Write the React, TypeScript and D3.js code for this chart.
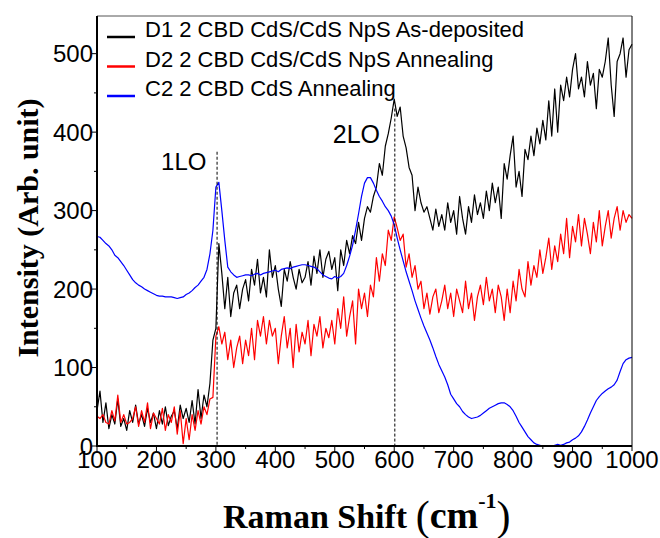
import React from "react";
import * as d3 from "d3";

// Raman shift grid (cm^-1), one sample every 5 cm^-1
const shift: number[] = d3.range(100, 1001, 5);

// D1 2 CBD CdS/CdS NpS As-deposited
const d1AsDeposited: number[] = [
  45, 70, 30, 55, 22, 40, 28, 60, 25, 35,
  20, 45, 30, 52, 28, 40, 25, 48, 30, 42,
  22, 45, 28, 50, 26, 38, 45, 22, 52, 35,
  48, 30, 58, 28, 72, 35, 65, 50, 80, 135,
  150, 258, 220, 175, 215, 165, 195, 205, 175, 200,
  212, 185, 225, 205, 238, 195, 215, 190, 250, 215,
  230, 200, 178, 225, 210, 235, 215, 200, 225, 208,
  215, 235, 205, 242, 220, 250, 215, 238, 248, 225,
  240, 198, 250, 230, 262, 245, 268, 258, 285, 262,
  290, 305, 298, 318, 330, 360, 345, 382, 398, 418,
  442, 420, 432, 395, 380, 355, 345, 300, 330, 310,
  298, 305, 290, 275, 302, 280, 295, 275, 310, 285,
  300, 270, 318, 290, 270, 305, 285, 320, 295, 310,
  290, 325, 300, 335, 310, 330, 290, 360, 340, 370,
  395, 330, 350, 318, 378, 365, 395, 370, 405, 385,
  415, 390, 440, 395, 455, 400, 460, 440, 470, 445,
  480, 500, 455, 470, 445, 490, 460, 475, 430, 480,
  470, 490, 520, 460, 420, 490, 500, 520, 470, 505,
  512,
];

// D2 2 CBD CdS/CdS NpS Annealing
const d2Annealing: number[] = [
  38, 35, 40, 30, 28, 45, 32, 65, 30, 40,
  28, 30, 35, 50, 25, 45, 30, 55, 22, 42,
  35, 28, 48, 20, 40, 30, 50, 15, 45, 3,
  35, 8, 40, 20, 45, 28, 50, 40, 60, 62,
  140, 152, 130, 145, 110, 135, 100, 125, 140, 105,
  135, 115, 150, 110, 160, 140, 165, 130, 160, 140,
  150, 105, 140, 165, 125, 150, 100, 155, 120, 145,
  130, 160, 115, 155, 140, 165, 125, 150, 138, 160,
  130, 175, 150, 190, 140, 165, 185, 130, 200, 175,
  195, 165, 205, 190, 240, 210, 245, 230, 275, 262,
  292, 278, 262, 270, 228, 245, 215, 230, 200, 210,
  175, 195, 168, 190, 200, 170, 185, 205, 175, 195,
  165, 200, 185, 170, 210, 175, 195, 160, 190, 205,
  180, 215, 185, 200, 170, 205, 190, 160, 200, 170,
  210, 185, 225, 200, 190, 235, 205, 230, 215, 250,
  220, 240, 265, 225, 255, 235, 270, 245, 290, 240,
  280, 260, 295, 255, 290, 270, 245, 285, 260, 300,
  255, 280, 300, 265, 290, 305, 275, 300, 285, 295,
  290,
];

// C2 2 CBD CdS Annealing
const c2Annealing: number[] = [
  267, 266, 262, 258, 255, 250, 243, 240, 235, 230,
  224, 218, 212, 208, 205, 203, 200, 198, 196, 194,
  192, 191, 191, 190, 190, 190, 189, 188, 189, 190,
  193, 195, 198, 202, 205, 210, 215, 225, 245, 275,
  330, 336, 300, 262, 228, 222, 218, 215, 216, 217,
  218, 218, 217, 219, 220, 218, 220, 221, 222, 223,
  224, 222, 225, 226, 227, 226, 228, 229, 230, 231,
  231, 230, 229, 228, 226, 222, 218, 216, 214, 213,
  216, 214, 216, 220, 230, 242, 256, 275, 296, 318,
  335, 342, 342, 335, 326, 318, 312, 305, 300, 293,
  282, 265, 250, 236, 222, 210, 198, 185, 174, 163,
  153, 144, 135, 125, 114, 104, 96, 88, 78, 66,
  60, 54, 50, 44, 40, 37, 35, 36, 37, 39,
  42, 45, 48, 50, 52, 54, 55, 55, 53, 50,
  45, 38, 30, 24, 18, 12, 8, 4, 2, 1,
  0, 0, 0, 0, 1, 2, 1, 2, 4, 5,
  8, 10, 13, 18, 25, 33, 42, 50, 58, 63,
  67, 70, 73, 75, 78, 84, 95, 105, 110, 112,
  113,
];

const seriesNames: string[] = [
  "D1 2 CBD CdS/CdS NpS As-deposited",
  "D2 2 CBD CdS/CdS NpS Annealing",
  "C2 2 CBD CdS Annealing",
];
const seriesColors: string[] = ["#000000", "#ff0000", "#0000ff"];

const xTicks: number[] = [100, 200, 300, 400, 500, 600, 700, 800, 900, 1000];
const yTicks: number[] = [0, 100, 200, 300, 400, 500];

// Phonon mode markers: label, position and top of the dashed guide
const modeLabels: string[] = ["1LO", "2LO"];
const modeShift: number[] = [302, 601];
const modeTop: number[] = [375, 430];

const W = 660;
const H = 538;
const left = 97;
const right = 632;
const top = 16;
const bottom = 446;

export default function App() {
  const x = d3.scaleLinear().domain([100, 1000]).range([left, right]);
  const y = d3.scaleLinear().domain([0, 548]).range([bottom, top]);

  const line = d3
    .line<number>()
    .x((_, i) => x(shift[i]))
    .y((v) => y(v));

  const data = [d1AsDeposited, d2Annealing, c2Annealing];
  const drawOrder = [0, 1, 2];

  const xMinor = d3.range(150, 1000, 100);
  const yMinor = d3.range(50, 548, 100);

  const sans = "'Liberation Sans', Arial, sans-serif";
  const serif = "'Liberation Serif', 'Times New Roman', serif";

  return (
    <div style={{ position: "absolute", left: 0, top: 0 }}>
      <svg width={W} height={H} style={{ display: "block", background: "#fff" }}>
        <rect x={0} y={0} width={W} height={H} fill="#fff" />

        {/* spectra */}
        <g fill="none" strokeWidth={1.2} strokeLinejoin="round">
          {drawOrder.map((k) => (
            <path key={k} d={line(data[k]) || ""} stroke={seriesColors[k]} />
          ))}
        </g>

        {/* phonon mode markers */}
        {modeLabels.map((lab, i) => (
          <line
            key={lab}
            x1={x(modeShift[i])}
            x2={x(modeShift[i])}
            y1={y(modeTop[i])}
            y2={bottom}
            stroke="#000"
            strokeWidth={1}
            strokeDasharray="3,2"
          />
        ))}
        <text x={x(modeShift[0]) - 56} y={170} fontFamily={sans} fontSize={24}>
          {modeLabels[0]}
        </text>
        <text x={x(modeShift[1]) - 62} y={143} fontFamily={sans} fontSize={25}>
          {modeLabels[1]}
        </text>

        {/* frame */}
        <line x1={left} x2={right} y1={top} y2={top} stroke="#555" strokeWidth={1} />
        <line x1={right} x2={right} y1={top} y2={bottom} stroke="#000" strokeWidth={1} />
        <line x1={left} x2={left} y1={top} y2={bottom + 1} stroke="#000" strokeWidth={2} />
        <line x1={left - 1} x2={right} y1={bottom} y2={bottom} stroke="#000" strokeWidth={2} />

        {/* x ticks */}
        {xTicks.map((t) => (
          <g key={"x" + t}>
            <line x1={x(t)} x2={x(t)} y1={bottom} y2={bottom + 5} stroke="#000" strokeWidth={1} />
            <text x={x(t)} y={468} textAnchor="middle" fontFamily={sans} fontSize={24}>
              {t}
            </text>
          </g>
        ))}
        {xMinor.map((t) => (
          <line key={"xm" + t} x1={x(t)} x2={x(t)} y1={bottom} y2={bottom + 3} stroke="#000" strokeWidth={1} />
        ))}

        {/* y ticks */}
        {yTicks.map((t) => (
          <g key={"y" + t}>
            <line x1={left - 5} x2={left} y1={y(t)} y2={y(t)} stroke="#000" strokeWidth={1} />
            <text x={93} y={y(t) + 8.5} textAnchor="end" fontFamily={sans} fontSize={24}>
              {t}
            </text>
          </g>
        ))}
        {yMinor.map((t) => (
          <line key={"ym" + t} x1={left - 3} x2={left} y1={y(t)} y2={y(t)} stroke="#000" strokeWidth={1} />
        ))}

        {/* legend */}
        {seriesNames.map((name, i) => (
          <g key={name}>
            <line
              x1={107}
              x2={135}
              y1={37 + i * 29.5}
              y2={37 + i * 29.5}
              stroke={seriesColors[i]}
              strokeWidth={2.5}
            />
            <text x={145} y={37 + i * 29.5} fontFamily={sans} fontSize={22}>
              {name}
            </text>
          </g>
        ))}

        {/* axis titles */}
        <text
          transform={`translate(38, 228) rotate(-90)`}
          textAnchor="middle"
          fontFamily={serif}
          fontWeight="bold"
          fontSize={30}
        >
          Intensity (Arb. unit)
        </text>
        <text x={223} y={528} fontFamily={serif} fontWeight="bold" fontSize={34}>
          Raman Shift{" "}
          <tspan fontSize={42} fontWeight="normal" dy={2}>(</tspan>
          <tspan fontSize={38} dy={-2}>cm</tspan>
          <tspan fontSize={22} dy={-20}>-1</tspan>
          <tspan fontSize={42} fontWeight="normal" dy={22}>)</tspan>
        </text>
      </svg>
    </div>
  );
}
